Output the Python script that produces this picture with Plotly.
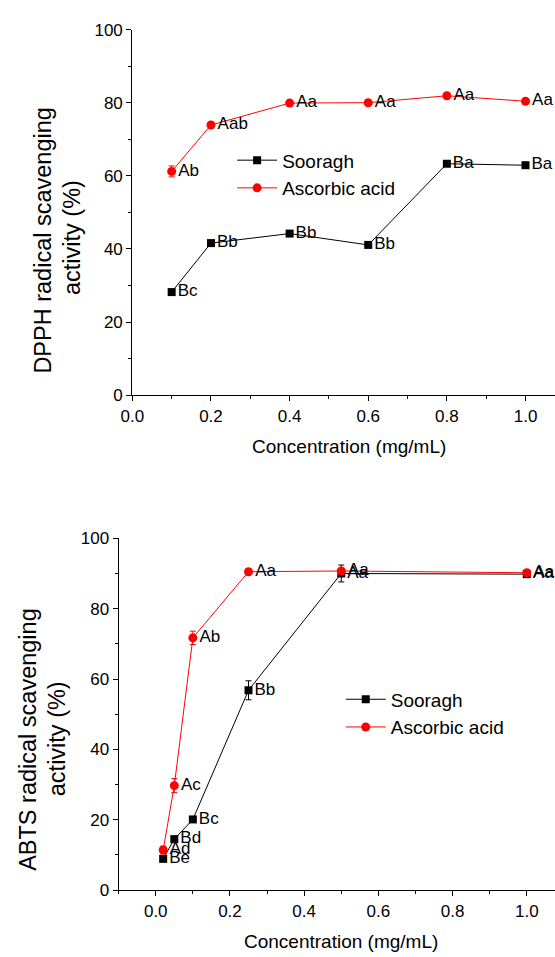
import plotly.graph_objects as go

# ---------------- data ----------------
conc_dpph = [0.1, 0.2, 0.4, 0.6, 0.8, 1.0]
dpph_sooragh = [28.2, 41.6, 44.2, 41.1, 63.3, 62.9]
dpph_sooragh_err = [0.6, 0.6, 0.5, 0.5, 0.5, 0.4]
dpph_sooragh_lbl = ["Bc", "Bb", "Bb", "Bb", "Ba", "Ba"]
dpph_asc = [61.2, 73.9, 79.9, 80.0, 81.9, 80.4]
dpph_asc_err = [1.5, 0.7, 0.5, 0.5, 0.5, 0.5]
dpph_asc_lbl = ["Ab", "Aab", "Aa", "Aa", "Aa", "Aa"]

conc_abts = [0.02, 0.05, 0.1, 0.25, 0.5, 1.0]
abts_sooragh = [8.9, 14.5, 20.1, 56.8, 90.0, 89.8]
abts_sooragh_err = [0.5, 0.6, 0.6, 2.7, 2.4, 0.5]
abts_sooragh_lbl = ["Be", "Bd", "Bc", "Bb", "Aa", "Aa"]
abts_asc = [11.4, 29.7, 71.7, 90.5, 90.7, 90.2]
abts_asc_err = [1.1, 2.0, 1.9, 0.5, 0.6, 0.5]
abts_asc_lbl = ["Ad", "Ac", "Ab", "Aa", "Aa", "Aa"]

series_names = ["Sooragh", "Ascorbic acid"]
x_title = "Concentration (mg/mL)"
y_title_top = ["DPPH radical scavenging", "activity (%)"]
y_title_bot = ["ABTS radical scavenging", "activity (%)"]

FONT = "Liberation Sans, Arial, sans-serif"
W, H = 555, 957


def px(v):
    return v / W


def py(v):
    return 1 - v / H


fig = go.Figure()


def add_series(x, y, err, lbl, name, color, symbol, size, xa, ya, legend):
    fig.add_trace(go.Scatter(
        x=x, y=y, name=name, mode="lines+markers+text",
        text=lbl, textposition="middle right",
        textfont=dict(family=FONT, size=17, color="black"),
        line=dict(color=color, width=1),
        marker=dict(color=color, symbol=symbol, size=size),
        error_y=dict(type="data", array=err, color=color, thickness=1, width=3),
        xaxis=xa, yaxis=ya, legend=legend, cliponaxis=False,
    ))


add_series(conc_dpph, dpph_sooragh, dpph_sooragh_err, dpph_sooragh_lbl,
           series_names[0], "black", "square", 8, "x", "y", "legend")
add_series(conc_dpph, dpph_asc, dpph_asc_err, dpph_asc_lbl,
           series_names[1], "#ff0000", "circle", 9, "x", "y", "legend")
add_series(conc_abts, abts_sooragh, abts_sooragh_err, abts_sooragh_lbl,
           series_names[0], "black", "square", 8, "x2", "y2", "legend2")
add_series(conc_abts, abts_asc, abts_asc_err, abts_asc_lbl,
           series_names[1], "#ff0000", "circle", 9, "x2", "y2", "legend2")

axis_common = dict(
    showline=True, linecolor="black", linewidth=1.2, showgrid=False,
    zeroline=False, ticks="outside", ticklen=5, tickwidth=1.2, tickcolor="black",
    tickfont=dict(family=FONT, size=17, color="black"),
)

fig.update_layout(
    width=W, height=H, autosize=False,
    margin=dict(l=0, r=0, t=0, b=0, pad=0),
    paper_bgcolor="white", plot_bgcolor="white",
    font=dict(family=FONT, color="black"),
    xaxis=dict(domain=[px(123), 1], anchor="y", range=[0, 1.075],
               tick0=0, dtick=0.2, tickformat=".1f",
               minor=dict(dtick=0.1, ticks="outside", ticklen=3, tickcolor="black"),
               **axis_common),
    yaxis=dict(domain=[py(394), py(21)], anchor="x", range=[0, 100],
               tick0=0, dtick=20,
               minor=dict(dtick=10, ticks="outside", ticklen=3, tickcolor="black"),
               **axis_common),
    xaxis2=dict(domain=[px(109), 1], anchor="y2", range=[-0.1, 1.076],
                tick0=0, dtick=0.2, tickformat=".1f",
                minor=dict(dtick=0.1, ticks="outside", ticklen=3, tickcolor="black"),
                **axis_common),
    yaxis2=dict(domain=[py(899), py(540)], anchor="x2", range=[0, 100],
                tick0=0, dtick=20,
                minor=dict(dtick=10, ticks="outside", ticklen=3, tickcolor="black"),
                **axis_common),
    legend=dict(x=px(225), y=py(135), xanchor="left", yanchor="top",
                bgcolor="rgba(0,0,0,0)", font=dict(family=FONT, size=19),
                tracegroupgap=0, itemwidth=40),
    legend2=dict(x=px(336), y=py(685), xanchor="left", yanchor="top",
                 bgcolor="rgba(0,0,0,0)", font=dict(family=FONT, size=19),
                 tracegroupgap=0, itemwidth=40),
)

ann = []
# x-axis titles
ann.append(dict(text=x_title, x=px(344), y=py(446), xref="paper", yref="paper",
                xanchor="center", yanchor="middle",
                showarrow=False, font=dict(family=FONT, size=19)))
ann.append(dict(text=x_title, x=px(336), y=py(951), xref="paper", yref="paper",
                xanchor="center", yanchor="middle",
                showarrow=False, font=dict(family=FONT, size=19)))
# y-axis titles (two lines each)
for txt, xc, yc in [(y_title_top[0], 32, 236), (y_title_top[1], 62, 233),
                    (y_title_bot[0], 17, 745), (y_title_bot[1], 46, 745)]:
    ann.append(dict(text=txt, x=px(xc), y=py(yc), xref="paper", yref="paper",
                    xanchor="center", yanchor="middle",
                    showarrow=False, textangle=-90, font=dict(family=FONT, size=23.5)))
fig.update_layout(annotations=ann)

fig.write_html("out.html")
